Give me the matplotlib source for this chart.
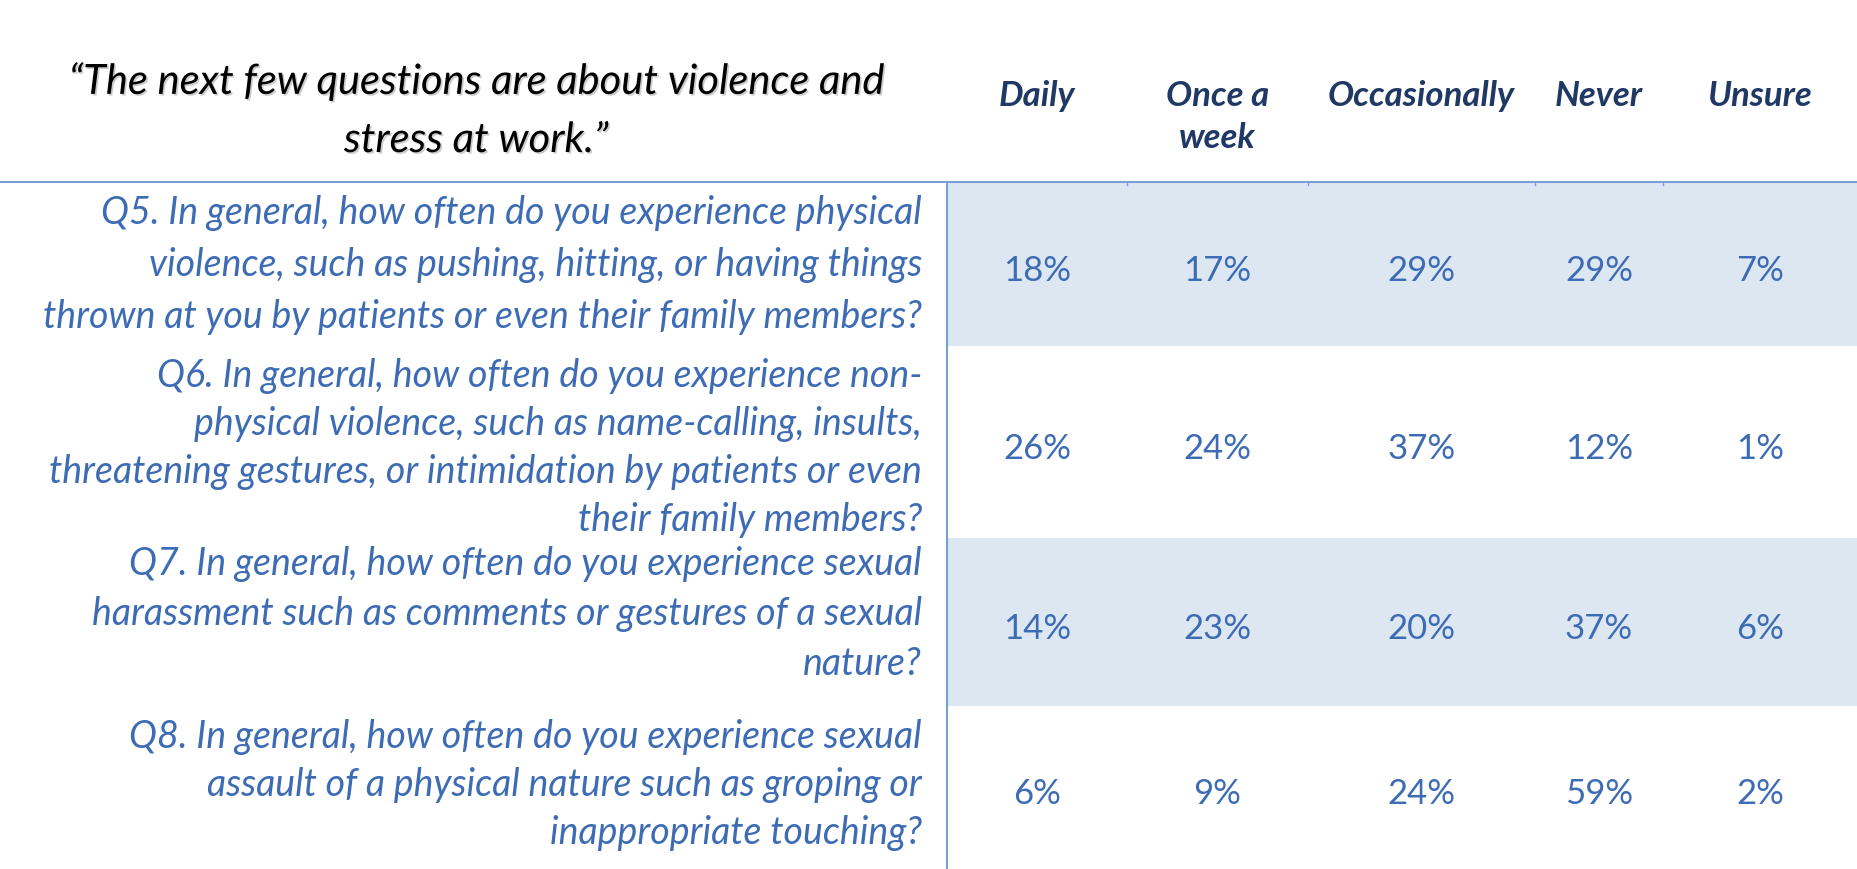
import matplotlib.pyplot as plt
import matplotlib.patheffects as pe

# Datos de la tabla
titulo = ["\u201cThe next few questions are about violence and", "stress at work.\u201d"]
columnas = ["Daily", "Once a\nweek", "Occasionally", "Never", "Unsure"]
preguntas = [
    "Q5. In general, how often do you experience physical\n"
    "violence, such as pushing, hitting, or having things\n"
    "thrown at you by patients or even their family members?",
    "Q6. In general, how often do you experience non-\n"
    "physical violence, such as name-calling, insults,\n"
    "threatening gestures, or intimidation by patients or even\n"
    "their family members?",
    "Q7. In general, how often do you experience sexual\n"
    "harassment such as comments or gestures of a sexual\n"
    "nature?",
    "Q8. In general, how often do you experience sexual\n"
    "assault of a physical nature such as groping or\n"
    "inappropriate touching?",
]
q5 = [18, 17, 29, 29, 7]
q6 = [26, 24, 37, 12, 1]
q7 = [14, 23, 20, 37, 6]
q8 = [6, 9, 24, 59, 2]
valores = [q5, q6, q7, q8]

# Geometría (en píxeles)
W, H = 1857, 870
col_bordes = [947, 1127, 1308, 1535, 1663, 1857]
fila_bordes = [183, 347, 539, 707, 870]
ajuste_filas = [0, 5, -9, -3]   # pequeño desplazamiento vertical del texto de cada pregunta
esp_filas = [52, 48, 50, 48]

azul_texto = '#3d6cb5'
azul_oscuro = '#1f3864'
azul_linea = '#7a9fd4'
sombreado = '#dde7f2'
fuente = 'Lato'

fig = plt.figure(figsize=(W / 100, H / 100), dpi=100)
ax = fig.add_axes([0, 0, 1, 1])
ax.set_xlim(0, W)
ax.set_ylim(H, 0)
ax.axis('off')

# Filas sombreadas
for i in range(len(preguntas)):
    if i % 2 == 0:
        ax.fill_between([col_bordes[0], col_bordes[-1]], fila_bordes[i], fila_bordes[i + 1],
                        color=sombreado, lw=0, zorder=0)

# Líneas
ax.plot([0, W], [fila_bordes[0], fila_bordes[0]], color=azul_linea, lw=1.5, zorder=2)
ax.plot([col_bordes[0], col_bordes[0]], [fila_bordes[0], H], color=azul_linea, lw=1.5, zorder=2)
for x in col_bordes[1:-1]:
    ax.plot([x, x], [fila_bordes[0], fila_bordes[0] + 3], color=azul_linea, lw=1, zorder=2)

# Título
sombra = [pe.SimplePatchShadow(offset=(1.2, -1.2), shadow_rgbFace='#9a9a9a', alpha=0.5), pe.Normal()]
for k, linea in enumerate(titulo):
    ax.text(476, 82 + k * 59, linea, ha='center', va='center', fontsize=30, style='italic',
            family=fuente, color='black', path_effects=sombra)

# Encabezados
for j, nombre in enumerate(columnas):
    xc = (col_bordes[j] + col_bordes[j + 1]) / 2
    for k, linea in enumerate(nombre.split('\n')):
        ax.text(xc, 96 + k * 42, linea, ha='center', va='center', fontsize=25,
                style='italic', weight='bold', family=fuente, color=azul_oscuro)

# Preguntas y valores
for i, (preg, fila) in enumerate(zip(preguntas, valores)):
    yc = (fila_bordes[i] + fila_bordes[i + 1]) / 2
    lineas = preg.split('\n')
    n = len(lineas)
    esp = esp_filas[i]
    for k, linea in enumerate(lineas):
        ax.text(922, yc + ajuste_filas[i] - (n - 1) / 2 * esp + k * esp, linea,
                ha='right', va='center', fontsize=27, style='italic',
                family=fuente, color=azul_texto)
    for j, v in enumerate(fila):
        xc = (col_bordes[j] + col_bordes[j + 1]) / 2
        ax.text(xc, yc + 6, f"{v}%", ha='center', va='center', fontsize=25,
                family=fuente, color=azul_texto)

fig.savefig('out.png', dpi=100)
